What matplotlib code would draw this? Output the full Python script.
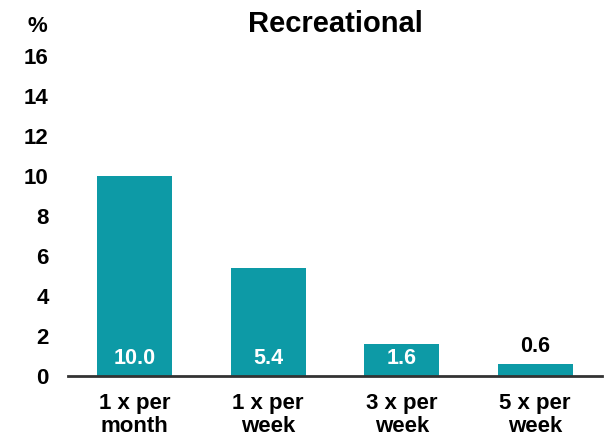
import matplotlib.pyplot as plt

plt.rcParams['font.family'] = ['Liberation Sans', 'DejaVu Sans']
plt.rcParams['font.weight'] = 'bold'

categories = ['1 x per\nmonth', '1 x per\nweek', '3 x per\nweek', '5 x per\nweek']
values = [10.0, 5.4, 1.6, 0.6]
yticks = [0, 2, 4, 6, 8, 10, 12, 14, 16]

teal = '#0d9aa6'

fig = plt.figure(figsize=(6.06, 4.47), dpi=100)
ax = fig.add_axes([0.1122, 0.1588, 0.8812, 0.717])

x = range(len(values))
bars = ax.bar(x, values, width=0.56, color=teal, zorder=2)

# labels: white inside the bar, black above it when the bar is too short
for i, v in enumerate(values):
    if v >= 1.5:
        ax.annotate('{:.1f}'.format(v), (i, 0), xytext=(0, 12.5), textcoords='offset points',
                    ha='center', va='center', color='white', fontsize=15.5, fontweight='bold')
    else:
        ax.annotate('{:.1f}'.format(v), (i, v), xytext=(0, 5), textcoords='offset points',
                    ha='center', va='bottom', color='black', fontsize=15.5, fontweight='bold')

ax.set_xlim(-0.5, 3.5)
ax.set_ylim(0, 16)
ax.set_yticks(yticks)
ax.set_yticklabels([str(t) for t in yticks], fontsize=16, fontweight='bold')
ax.set_xticks(list(x))
ax.set_xticklabels(categories, fontsize=16, fontweight='bold', linespacing=1.15)
ax.tick_params(axis='y', length=0, pad=14)
ax.tick_params(axis='x', length=0, pad=12)

for s in ['top', 'right', 'left']:
    ax.spines[s].set_visible(False)
ax.spines['bottom'].set_linewidth(2)
ax.spines['bottom'].set_color('#333333')

ax.set_title('Recreational', fontsize=21, fontweight='bold', pad=17)
fig.text(37.5 / 606, 1 - 26 / 447, '%', fontsize=16, fontweight='bold', ha='center', va='center')

fig.savefig('out.png', dpi=100)
